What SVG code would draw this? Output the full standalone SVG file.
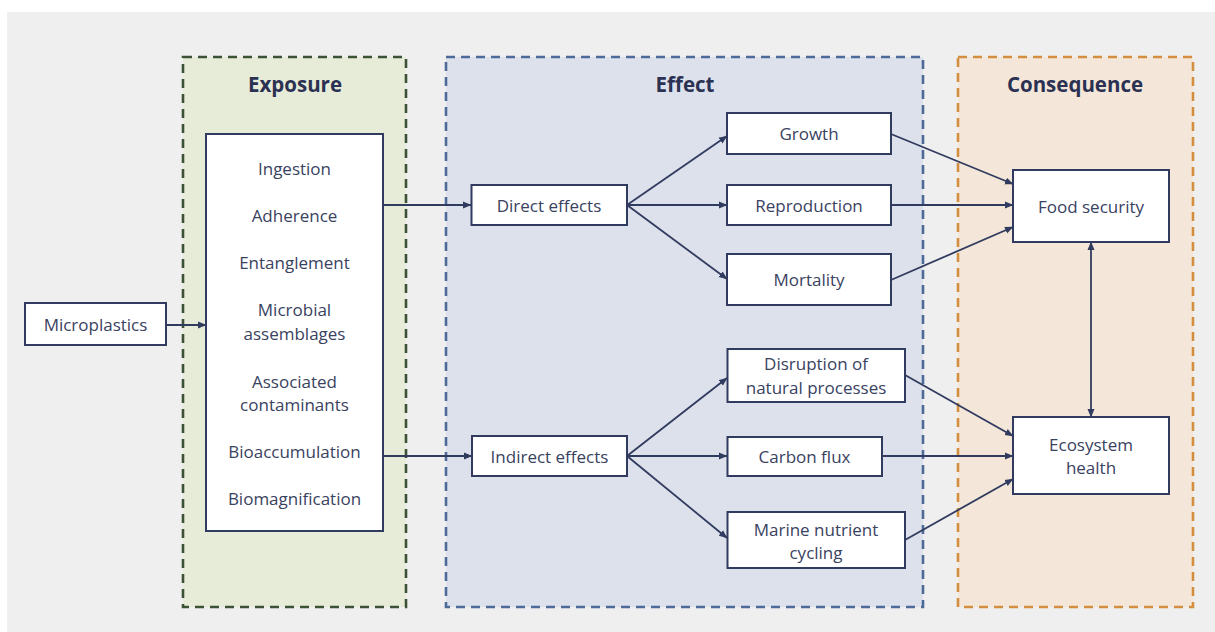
<svg xmlns="http://www.w3.org/2000/svg" width="1215" height="632" viewBox="0 0 1215 632">
<defs>
<style>
.bg{fill:#efefef}
.grp{stroke-width:2.6;stroke-dasharray:9 6}
.title{font-family:"Open Sans","Liberation Sans",sans-serif;font-weight:bold;font-size:20.5px;fill:#2b3152;text-anchor:middle}
.box{fill:#ffffff;stroke:#313b5f;stroke-width:2}
.t{font-family:"Open Sans","Liberation Sans",sans-serif;font-size:17px;fill:#39425f;text-anchor:middle;dominant-baseline:central}
.c{stroke:#313b5f;stroke-width:1.8;fill:none}
</style>
<marker id="ah" markerWidth="9" markerHeight="8" refX="8" refY="4" orient="auto-start-reverse" markerUnits="userSpaceOnUse">
<path d="M0,0.5 L8.5,4 L0,7.5 z" fill="#313b5f"/>
</marker>
</defs>
<rect x="0" y="0" width="1215" height="632" fill="#ffffff"/>
<rect class="bg" x="7" y="12" width="1208" height="620"/>

<g id="group-exposure">
<rect class="grp" x="183" y="57" width="223" height="550" fill="#e7ecd9" stroke="#3c5236"/>
<text class="title" x="295" y="92">Exposure</text>
</g>
<g id="group-effect">
<rect class="grp" x="446" y="57" width="477" height="550" fill="#dde1eb" stroke="#4e6a98"/>
<text class="title" x="685" y="92">Effect</text>
</g>
<g id="group-consequence">
<rect class="grp" x="958" y="57" width="235" height="550" fill="#f4e7d9" stroke="#d38e40"/>
<text class="title" x="1075" y="92">Consequence</text>
</g>

<g id="connectors">
<line class="c" x1="166" y1="325" x2="206" y2="325" marker-end="url(#ah)"/>
<line class="c" x1="383" y1="205" x2="471" y2="205" marker-end="url(#ah)"/>
<line class="c" x1="383" y1="456" x2="472" y2="456" marker-end="url(#ah)"/>
<line class="c" x1="627" y1="205" x2="727" y2="136" marker-end="url(#ah)"/>
<line class="c" x1="627" y1="205" x2="727" y2="205" marker-end="url(#ah)"/>
<line class="c" x1="627" y1="205" x2="727" y2="279" marker-end="url(#ah)"/>
<line class="c" x1="627" y1="456" x2="727" y2="378" marker-end="url(#ah)"/>
<line class="c" x1="627" y1="456" x2="727" y2="456" marker-end="url(#ah)"/>
<line class="c" x1="627" y1="456" x2="727" y2="538" marker-end="url(#ah)"/>
<line class="c" x1="891" y1="134" x2="1013" y2="184" marker-end="url(#ah)"/>
<line class="c" x1="891" y1="205" x2="1013" y2="205" marker-end="url(#ah)"/>
<line class="c" x1="891" y1="280" x2="1013" y2="227" marker-end="url(#ah)"/>
<line class="c" x1="905" y1="375" x2="1013" y2="436" marker-end="url(#ah)"/>
<line class="c" x1="882" y1="456" x2="1013" y2="456" marker-end="url(#ah)"/>
<line class="c" x1="905" y1="540" x2="1013" y2="479" marker-end="url(#ah)"/>
<line class="c" x1="1091" y1="242" x2="1091" y2="417" marker-start="url(#ah)" marker-end="url(#ah)"/>
</g>

<g id="node-microplastics">
<rect class="box" x="25" y="303" width="141" height="42"/>
<text class="t" x="95.5" y="324">Microplastics</text>
</g>
<g id="node-exposure-list">
<rect class="box" x="206" y="134" width="177" height="397"/>
<text class="t" x="294.5" y="168">Ingestion</text>
<text class="t" x="294.5" y="215">Adherence</text>
<text class="t" x="294.5" y="262">Entanglement</text>
<text class="t" x="294.5" y="309.5">Microbial</text>
<text class="t" x="294.5" y="333">assemblages</text>
<text class="t" x="294.5" y="381">Associated</text>
<text class="t" x="294.5" y="404">contaminants</text>
<text class="t" x="294.5" y="451">Bioaccumulation</text>
<text class="t" x="294.5" y="498">Biomagnification</text>
</g>
<g id="node-direct">
<rect class="box" x="471.5" y="185" width="155.5" height="40"/>
<text class="t" x="549" y="205">Direct effects</text>
</g>
<g id="node-indirect">
<rect class="box" x="472" y="436" width="155" height="40"/>
<text class="t" x="549.5" y="456">Indirect effects</text>
</g>
<g id="node-growth">
<rect class="box" x="727" y="113" width="164" height="41"/>
<text class="t" x="809" y="133.5">Growth</text>
</g>
<g id="node-reproduction">
<rect class="box" x="727" y="185" width="164" height="40"/>
<text class="t" x="809" y="205">Reproduction</text>
</g>
<g id="node-mortality">
<rect class="box" x="727" y="254" width="164" height="51"/>
<text class="t" x="809" y="279.5">Mortality</text>
</g>
<g id="node-disruption">
<rect class="box" x="727.5" y="349" width="177.5" height="53"/>
<text class="t" x="816" y="363">Disruption of</text>
<text class="t" x="816" y="387.5">natural processes</text>
</g>
<g id="node-carbon">
<rect class="box" x="727.5" y="437" width="154.5" height="39"/>
<text class="t" x="804.5" y="456.5">Carbon flux</text>
</g>
<g id="node-marine">
<rect class="box" x="727.5" y="512" width="177.5" height="56"/>
<text class="t" x="816" y="529">Marine nutrient</text>
<text class="t" x="816" y="552">cycling</text>
</g>
<g id="node-food">
<rect class="box" x="1013" y="170" width="156" height="72"/>
<text class="t" x="1091" y="206">Food security</text>
</g>
<g id="node-ecosystem">
<rect class="box" x="1013" y="417" width="156" height="77"/>
<text class="t" x="1091" y="444">Ecosystem</text>
<text class="t" x="1091" y="467">health</text>
</g>
</svg>
